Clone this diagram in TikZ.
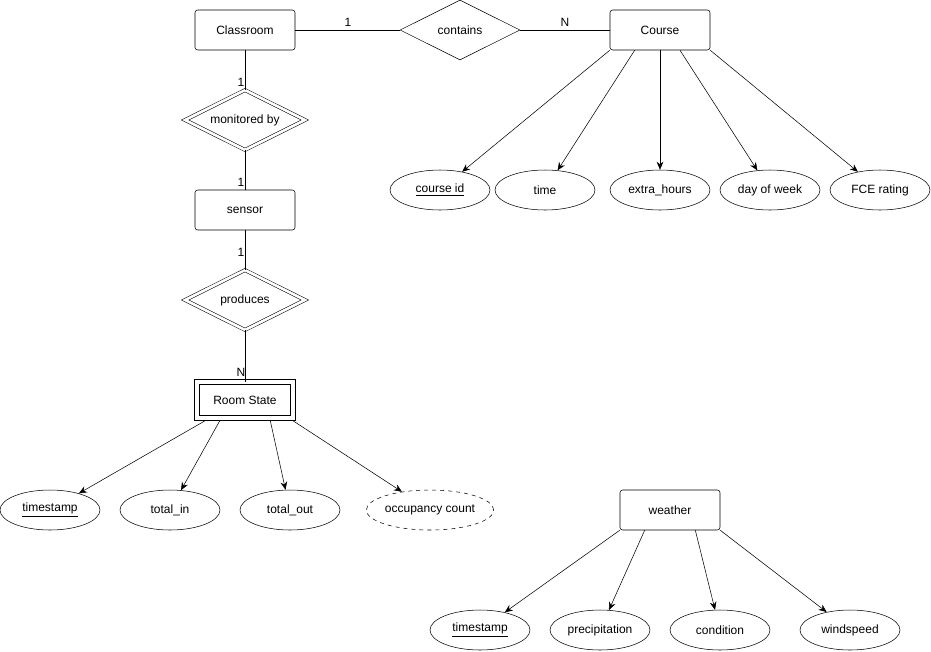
\documentclass[tikz,border=0pt]{standalone}
\usepackage{fontspec}
\setmainfont{Liberation Sans}
\usetikzlibrary{shapes.geometric,arrows.meta,positioning}
\tikzset{
  every node/.style={font=\fontsize{9}{11}\selectfont},
  ent/.style={draw, rectangle, rounded corners=2pt, minimum width=75pt, minimum height=30pt},
  wkent/.style={draw, double, double distance=3pt, rectangle, minimum width=72pt, minimum height=27pt},
  rel/.style={draw, diamond, aspect=2, minimum width=90pt, minimum height=45pt, inner sep=0pt},
  wkrel/.style={rel, double, double distance=2pt},
  attr/.style={draw, ellipse, minimum width=75pt, minimum height=30pt, inner sep=0pt},
  card/.style={font=\fontsize{9}{11}\selectfont, inner sep=1pt},
  arr/.style={-{Stealth[length=6pt,width=5pt]}}
}
\begin{document}
\begin{tikzpicture}[x=0.75pt, y=-0.75pt]
    \useasboundingbox (0,0) rectangle (931,651);
    % entities and relationships
    \node[ent] (classroom) at (245,30) {Classroom};
    \node[rel] (contains) at (460,30) {contains};
    \node[ent] (course) at (660,30) {Course};
    \node[wkrel] (monitored) at (245,120) {monitored by};
    \node[ent] (sensor) at (245,210) {sensor};
    \node[wkrel] (produces) at (245,300) {produces};
    \node[wkent] (roomstate) at (245,400) {Room State};
    \node[ent] (weather) at (670,510) {weather};

    % course attributes
    \node[attr] (cid) at (440,190) {\underline{course id}};
    \node[attr] (time) at (545,190) {time};
    \node[attr] (extra) at (660,190) {extra\_hours};
    \node[attr] (dow) at (770,190) {day of week};
    \node[attr] (fce) at (880,190) {FCE rating};

    % room state attributes
    \node[attr] (rts) at (50,510) {\underline{timestamp}};
    \node[attr] (tin) at (170,510) {total\_in};
    \node[attr] (tout) at (290,510) {total\_out};
    \node[attr, dashed] (occ) at (430,510) {occupancy count};

    % weather attributes
    \node[attr] (wts) at (480,630) {\underline{timestamp}};
    \node[attr] (prec) at (600,630) {precipitation};
    \node[attr] (cond) at (720,630) {condition};
    \node[attr] (wind) at (850,630) {windspeed};

    % cardinalities
    \node[card] at (348,22) {1};
    \node[card] at (565,22) {N};
    \node[card] at (241,82) {1};
    \node[card] at (241,182) {1};
    \node[card] at (241,252) {1};
    \node[card] at (241,372) {N};

    \draw (classroom) -- (contains);
    \draw (contains.east) -- (course.west);
    \draw (classroom) -- (monitored);
    \draw (monitored) -- (sensor);
    \draw (sensor) -- (produces);
    \draw (produces) -- (roomstate);

    \draw[arr] (course.south west) -- (cid);
    \draw[arr] ([xshift=-19pt]course.south) -- (time);
    \draw[arr] (course.south) -- (extra);
    \draw[arr] ([xshift=15pt]course.south) -- (dow);
    \draw[arr] (course.south east) -- (fce);

    \draw[arr] ([xshift=6pt, yshift=-2pt]roomstate.south west) -- (rts);
    \draw[arr] ([xshift=-19pt, yshift=-2pt]roomstate.south) -- (tin);
    \draw[arr] ([xshift=19pt, yshift=-2pt]roomstate.south) -- (tout);
    \draw[arr] ([yshift=-2pt]roomstate.south east) -- (occ);

    \draw[arr] (weather.south west) -- (wts);
    \draw[arr] ([xshift=-19pt]weather.south) -- (prec);
    \draw[arr] ([xshift=19pt]weather.south) -- (cond);
    \draw[arr] (weather.south east) -- (wind);
\end{tikzpicture}
\end{document}
